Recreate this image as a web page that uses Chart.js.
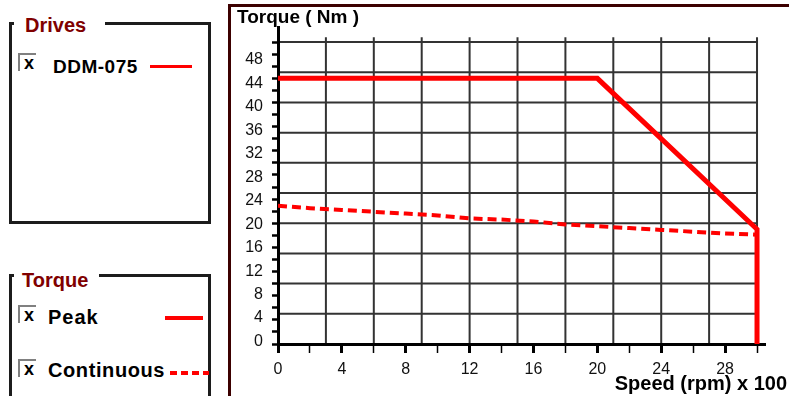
<!DOCTYPE html>
<html>
<head>
<meta charset="utf-8">
<script src="https://cdn.jsdelivr.net/npm/chart.js@4.4.1/dist/chart.umd.min.js"></script>
<style>
    body { margin: 0; background: #fff; width: 789px; height: 396px; overflow: hidden; position: relative; font-family: "Liberation Sans", Arial, sans-serif; }
    .box { position: absolute; border: 3px solid #1c1c1c; box-sizing: border-box; }
    .boxTitle { position: absolute; background: #fff; color: #800000; font-weight: bold; font-size: 20px; line-height: 20px; }
    .chk { position: absolute; width: 18px; height: 18px; border-top: 2px solid #808080; border-left: 2px solid #808080; box-sizing: border-box; font: bold 18px "Liberation Sans", Arial; line-height: 17px; padding-left: 4px; color: #000; overflow: visible; }
    .item { position: absolute; font-weight: bold; color: #000; line-height: 20px; white-space: nowrap; }
    .swatch { position: absolute; height: 0; border-top: 4px solid #f00; }
    #panel { position: absolute; left: 228px; top: 4px; width: 600px; height: 420px; border-top: 3px solid #3c0000; border-left: 3px solid #3c0000; }
    #chartWrap { position: absolute; left: 231px; top: 7px; width: 558px; height: 389px; }
</style>
</head>
<body>
    <div class="box" style="left:9px;top:22px;width:202px;height:202px;"></div>
    <div class="boxTitle" style="left:14px;top:15px;padding:0 19px 0 11px;">Drives</div>
    <div class="chk" style="left:18px;top:53px;">x</div>
    <div class="item" style="left:53px;top:57px;font-size:19px;letter-spacing:0.5px;">DDM-075</div>
    <div class="swatch" style="left:150px;top:65px;width:42px;border-top-width:3px;"></div>

    <div class="box" style="left:9px;top:274px;width:202px;height:200px;"></div>
    <div class="boxTitle" style="left:14px;top:270px;padding:0 11px 0 8px;">Torque</div>
    <div class="chk" style="left:18px;top:305px;">x</div>
    <div class="item" style="left:48px;top:307px;font-size:20px;letter-spacing:1px;">Peak</div>
    <div class="swatch" style="left:165px;top:316px;width:38px;"></div>
    <div class="chk" style="left:18px;top:359px;">x</div>
    <div class="item" style="left:48px;top:360px;font-size:20px;letter-spacing:0.6px;">Continuous</div>
    <div style="position:absolute;left:170px;top:371px;width:39px;height:4px;background:repeating-linear-gradient(90deg,#f00 0 7px,transparent 7px 11px);"></div>

    <div id="panel"></div>
    <div id="chartWrap"><canvas id="torqueChart"></canvas></div>

<script>
var peakSpeed = [0, 20, 30, 30];
var peakTorque = [44, 44, 19, 0];
var contSpeed = [0, 2, 4, 6, 8, 10, 12, 14, 16, 18, 20, 22, 24, 26, 28, 30];
var contTorque = [22.9, 22.5, 22.2, 21.9, 21.6, 21.3, 20.8, 20.6, 20.3, 19.8, 19.5, 19.2, 18.9, 18.6, 18.3, 18.1];
var xTickValues = [0, 2, 4, 6, 8, 10, 12, 14, 16, 18, 20, 22, 24, 26, 28, 30];
var xTickLabels = [0, 4, 8, 12, 16, 20, 24, 28];
var yTickValues = [0, 2, 4, 6, 8, 10, 12, 14, 16, 18, 20, 22, 24, 26, 28, 30, 32, 34, 36, 38, 40, 42, 44, 46, 48, 50];
var yTickLabels = [0, 4, 8, 12, 16, 20, 24, 28, 32, 36, 40, 44, 48];
var gridSpeed = [3, 6, 9, 12, 15, 18, 21, 24, 27, 30];
var gridTorque = [5, 10, 15, 20, 25, 30, 35, 40, 45, 50];
var yTitle = "Torque ( Nm )";
var xTitle = "Speed (rpm) x 100";

function toPoints(xs, ys) {
    return xs.map(function (v, i) { return { x: v, y: ys[i] }; });
}

var gridPlugin = {
    id: 'oldGrid',
    beforeDraw: function (chart) {
        var ctx = chart.ctx, sx = chart.scales.x, sy = chart.scales.y;
        ctx.save();
        ctx.strokeStyle = '#333';
        ctx.lineWidth = 2;
        gridSpeed.forEach(function (v) {
            var px = sx.getPixelForValue(v);
            ctx.beginPath();
            ctx.moveTo(px, sy.getPixelForValue(0));
            ctx.lineTo(px, sy.getPixelForValue(50.8));
            ctx.stroke();
        });
        gridTorque.forEach(function (v) {
            var py = sy.getPixelForValue(v);
            ctx.beginPath();
            ctx.moveTo(sx.getPixelForValue(0), py);
            ctx.lineTo(sx.getPixelForValue(30), py);
            ctx.stroke();
        });
        ctx.restore();
    },
    afterDraw: function (chart) {
        var ctx = chart.ctx;
        ctx.save();
        ctx.fillStyle = '#000';
        ctx.textBaseline = 'middle';
        ctx.font = 'bold 19px "Liberation Sans", Arial';
        ctx.textAlign = 'left';
        ctx.fillText(yTitle, 6, 11);
        ctx.font = 'bold 20px "Liberation Sans", Arial';
        ctx.textAlign = 'right';
        ctx.fillText(xTitle, chart.width - 2, 377);
        ctx.restore();
    }
};

var tickFont = { family: 'Liberation Sans', size: 16 };

new Chart(document.getElementById('torqueChart'), {
    type: 'line',
    plugins: [gridPlugin],
    data: {
        datasets: [
            {
                label: 'Peak',
                data: toPoints(peakSpeed, peakTorque),
                borderColor: '#ff0000',
                borderWidth: 5,
                pointRadius: 0,
                tension: 0,
                fill: false
            },
            {
                label: 'Continuous',
                data: toPoints(contSpeed, contTorque),
                borderColor: '#ff0000',
                borderWidth: 4,
                borderDash: [9, 5],
                pointRadius: 0,
                tension: 0,
                fill: false
            }
        ]
    },
    options: {
        responsive: true,
        maintainAspectRatio: false,
        animation: false,
        layout: { padding: { top: 20, right: 24, left: 0, bottom: 0 } },
        plugins: {
            legend: { display: false },
            title: { display: false },
            tooltip: { enabled: false }
        },
        scales: {
            x: {
                type: 'linear',
                min: 0,
                max: 30.5,
                afterBuildTicks: function (s) { s.ticks = xTickValues.map(function (v) { return { value: v }; }); },
                afterFit: function (s) { s.height = 52; },
                ticks: {
                    autoSkip: false,
                    maxRotation: 0,
                    padding: 7,
                    color: '#111',
                    font: tickFont,
                    callback: function (v) { return xTickLabels.indexOf(v) >= 0 ? String(v) : ''; }
                },
                grid: {
                    drawOnChartArea: false,
                    tickLength: 9,
                    tickColor: '#000',
                    tickWidth: function (c) { return c.tick && c.tick.value % 4 === 0 ? 3 : 1.5; }
                },
                border: { color: '#000', width: 3 }
            },
            y: {
                type: 'linear',
                position: 'left',
                weight: 0,
                min: 0,
                max: 52.5,
                afterBuildTicks: function (s) { s.ticks = yTickValues.map(function (v) { return { value: v }; }); },
                afterFit: function (s) { s.width = 6; },
                ticks: { display: false },
                grid: { drawOnChartArea: false, tickLength: 6, tickWidth: 2.5, tickColor: '#000' },
                border: { color: '#000', width: 3 }
            },
            yLabels: {
                type: 'linear',
                position: 'left',
                weight: 1,
                min: -0.43,
                max: 53.62,
                afterBuildTicks: function (s) { s.ticks = yTickLabels.map(function (v) { return { value: v }; }); },
                afterFit: function (s) { s.width = 41; },
                ticks: { padding: 9, color: '#111', font: tickFont, autoSkip: false },
                grid: { display: false, drawTicks: false },
                border: { display: false }
            }
        }
    }
});
</script>
</body>
</html>
